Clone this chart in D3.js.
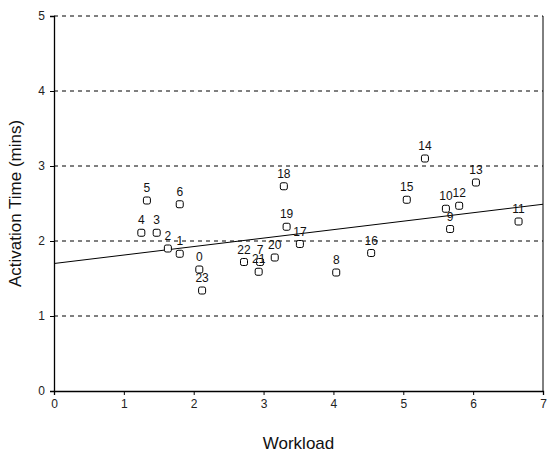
<!DOCTYPE html>
<html>
<head>
<meta charset="utf-8">
<script src="https://cdn.jsdelivr.net/npm/d3@7"></script>
<style>
  body { margin: 0; background: #fff; }
  text { font-family: "Liberation Sans", Arial, sans-serif; }
</style>
</head>
<body>
<div id="chart"></div>
<script>
// point ids, workload and activation time
const pointIds = [0, 1, 2, 3, 4, 5, 6, 7, 8, 9, 10, 11, 12, 13, 14, 15, 16, 17, 18, 19, 20, 21, 22, 23];
const workload = [2.08, 1.80, 1.63, 1.47, 1.25, 1.33, 1.80, 2.95, 4.04, 5.67, 5.61, 6.65, 5.80, 6.04, 5.31, 5.05, 4.54, 3.52, 3.29, 3.33, 3.16, 2.93, 2.72, 2.12];
const activation = [1.62, 1.83, 1.90, 2.11, 2.11, 2.54, 2.49, 1.72, 1.58, 2.16, 2.43, 2.26, 2.47, 2.78, 3.10, 2.55, 1.84, 1.96, 2.73, 2.19, 1.78, 1.59, 1.72, 1.34];

// trend line end points
const trendX = [0, 7];
const trendY = [1.70, 2.49];

const xTicks = [0, 1, 2, 3, 4, 5, 6, 7];
const yTicks = [0, 1, 2, 3, 4, 5];

const svgWidth = 547, svgHeight = 453;
const margin = {top: 16, right: 4, bottom: 62, left: 54};
const width = svgWidth - margin.left - margin.right;
const height = svgHeight - margin.top - margin.bottom;

const svg = d3.select("#chart").append("svg")
    .attr("width", svgWidth)
    .attr("height", svgHeight);

const plotArea = svg.append("g")
    .attr("transform", `translate(${margin.left},${margin.top})`)
    .attr("class", "plot-area");

const x = d3.scaleLinear().domain([0, 7]).range([0, width]);
const y = d3.scaleLinear().domain([0, 5]).range([height, 0]);

// dashed gridlines
plotArea.selectAll(".grid")
    .data(yTicks.filter(d => d > 0))
    .enter().append("line")
    .attr("class", "grid")
    .attr("x1", 0)
    .attr("x2", width)
    .attr("y1", d => y(d))
    .attr("y2", d => y(d))
    .attr("stroke", "#000")
    .attr("stroke-width", 1)
    .attr("stroke-dasharray", "4,4");

// right border
plotArea.append("line")
    .attr("x1", width).attr("x2", width)
    .attr("y1", 0).attr("y2", height)
    .attr("stroke", "#000");

const xAxis = plotArea.append("g")
    .attr("transform", `translate(0,${height})`)
    .call(d3.axisBottom(x).tickValues(xTicks).tickSize(4).tickPadding(4).tickFormat(d3.format("d")));

const yAxis = plotArea.append("g")
    .call(d3.axisLeft(y).tickValues(yTicks).tickSize(4).tickPadding(5).tickFormat(d3.format("d")));

[xAxis, yAxis].forEach(a => {
    a.select(".domain").attr("stroke", "#000").attr("stroke-width", 1.3);
    a.selectAll(".tick line").attr("stroke", "#000");
    a.selectAll(".tick text")
        .attr("font-size", 12)
        .attr("fill", "#222")
        .attr("font-family", "Liberation Sans, Arial, sans-serif");
});

// trend line
plotArea.append("line")
    .attr("x1", x(trendX[0])).attr("y1", y(trendY[0]))
    .attr("x2", x(trendX[1])).attr("y2", y(trendY[1]))
    .attr("stroke", "#000")
    .attr("stroke-width", 1);

const points = pointIds.map((id, i) => ({id: id, wl: workload[i], at: activation[i]}));

plotArea.selectAll(".marker")
    .data(points)
    .enter().append("rect")
    .attr("class", "marker")
    .attr("x", d => x(d.wl) - 3.5)
    .attr("y", d => y(d.at) - 3.5)
    .attr("width", 7)
    .attr("height", 7)
    .attr("rx", 1.8)
    .attr("fill", "#fff")
    .attr("stroke", "#000")
    .attr("stroke-width", 1);

plotArea.selectAll(".keyLabel")
    .data(points)
    .enter().append("text")
    .attr("class", "keyLabel")
    .attr("x", d => x(d.wl))
    .attr("y", d => y(d.at) - 8.5)
    .attr("text-anchor", "middle")
    .attr("font-size", 12)
    .attr("fill", "#111")
    .text(d => d.id);

// axis titles
svg.append("text")
    .attr("x", margin.left + width / 2)
    .attr("y", 449)
    .attr("text-anchor", "middle")
    .attr("font-size", 17)
    .attr("fill", "#111")
    .text("Workload");

svg.append("text")
    .attr("transform", `translate(21,${margin.top + height / 2}) rotate(-90)`)
    .attr("text-anchor", "middle")
    .attr("font-size", 17)
    .attr("fill", "#111")
    .text("Activation Time (mins)");
</script>
</body>
</html>
